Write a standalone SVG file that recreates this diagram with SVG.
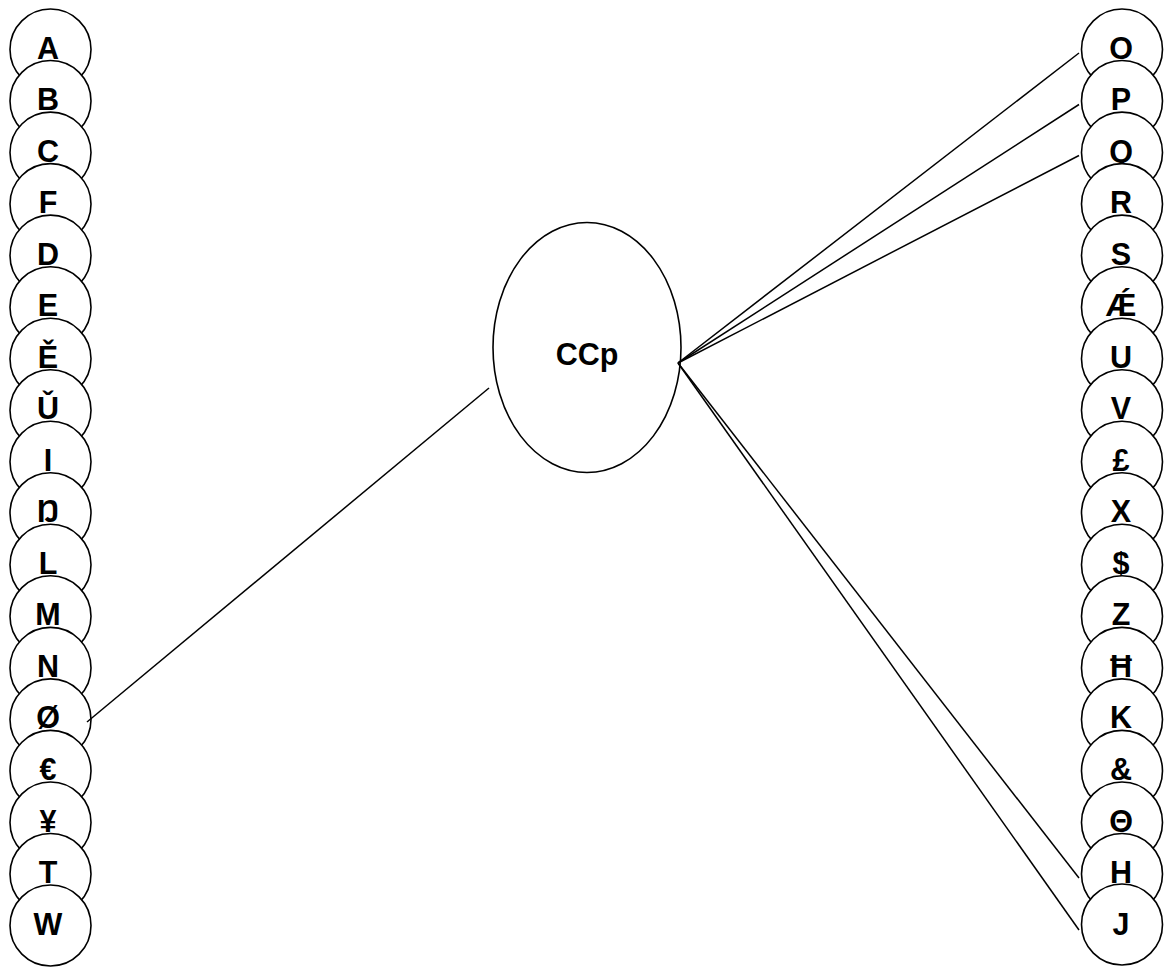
<svg xmlns="http://www.w3.org/2000/svg" width="1167" height="969" viewBox="0 0 1167 969">
<style>
.n ellipse{fill:#fff;stroke:#000;stroke-width:1.6}
.n text{font-family:"Liberation Sans",Arial,sans-serif;font-weight:bold;font-size:30.5px;text-anchor:middle;fill:#000}
.c line{stroke:#000;stroke-width:1.5}
</style>
<rect width="1167" height="969" fill="#fff"/>
<g class="n" id="nA"><ellipse cx="50.5" cy="49.5" rx="40.5" ry="40.5"/><text x="48" y="58.5">A</text></g>
<g class="n" id="nB"><ellipse cx="50.5" cy="101" rx="40.5" ry="40.5"/><text x="48" y="110">B</text></g>
<g class="n" id="nC"><ellipse cx="50.5" cy="152.6" rx="40.5" ry="40.5"/><text x="48" y="161.6">C</text></g>
<g class="n" id="nF"><ellipse cx="50.5" cy="204.1" rx="40.5" ry="40.5"/><text x="48" y="213.1">F</text></g>
<g class="n" id="nD"><ellipse cx="50.5" cy="255.6" rx="40.5" ry="40.5"/><text x="48" y="264.6">D</text></g>
<g class="n" id="nE"><ellipse cx="50.5" cy="307.2" rx="40.5" ry="40.5"/><text x="48" y="316.2">E</text></g>
<g class="n" id="nE2"><ellipse cx="50.5" cy="358.7" rx="40.5" ry="40.5"/><text x="48" y="367.7">Ě</text></g>
<g class="n" id="nU2"><ellipse cx="50.5" cy="410.2" rx="40.5" ry="40.5"/><text x="48" y="419.2">Ǔ</text></g>
<g class="n" id="nI"><ellipse cx="50.5" cy="461.7" rx="40.5" ry="40.5"/><text x="48" y="470.7">I</text></g>
<g class="n" id="nENG"><ellipse cx="50.5" cy="513.3" rx="40.5" ry="40.5"/><text x="48" y="522.3">Ŋ</text></g>
<g class="n" id="nL"><ellipse cx="50.5" cy="564.8" rx="40.5" ry="40.5"/><text x="48" y="573.8">L</text></g>
<g class="n" id="nM"><ellipse cx="50.5" cy="616.3" rx="40.5" ry="40.5"/><text x="48" y="625.3">M</text></g>
<g class="n" id="nN"><ellipse cx="50.5" cy="667.9" rx="40.5" ry="40.5"/><text x="48" y="676.9">N</text></g>
<g class="n" id="nO2"><ellipse cx="50.5" cy="719.4" rx="40.5" ry="40.5"/><text x="48" y="728.4">Ø</text></g>
<g class="n" id="nEUR"><ellipse cx="50.5" cy="770.9" rx="40.5" ry="40.5"/><text x="48" y="779.9">€</text></g>
<g class="n" id="nYEN"><ellipse cx="50.5" cy="822.5" rx="40.5" ry="40.5"/><text x="48" y="831.5">¥</text></g>
<g class="n" id="nT"><ellipse cx="50.5" cy="874" rx="40.5" ry="40.5"/><text x="48" y="883">T</text></g>
<g class="n" id="nW"><ellipse cx="50.5" cy="925.5" rx="40.5" ry="40.5"/><text x="48" y="934.5">W</text></g>

<g class="n" id="nO"><ellipse cx="1122" cy="49.5" rx="40.5" ry="40.5"/><text x="1121" y="58.5">O</text></g>
<g class="n" id="nP"><ellipse cx="1122" cy="101" rx="40.5" ry="40.5"/><text x="1121" y="110">P</text></g>
<g class="n" id="nQ"><ellipse cx="1122" cy="152.6" rx="40.5" ry="40.5"/><text x="1121" y="161.6">Q</text></g>
<g class="n" id="nR"><ellipse cx="1122" cy="204.1" rx="40.5" ry="40.5"/><text x="1121" y="213.1">R</text></g>
<g class="n" id="nS"><ellipse cx="1122" cy="255.6" rx="40.5" ry="40.5"/><text x="1121" y="264.6">S</text></g>
<g class="n" id="nAE"><ellipse cx="1122" cy="307.2" rx="40.5" ry="40.5"/><text x="1121" y="316.2">Ǽ</text></g>
<g class="n" id="nU"><ellipse cx="1122" cy="358.7" rx="40.5" ry="40.5"/><text x="1121" y="367.7">U</text></g>
<g class="n" id="nV"><ellipse cx="1122" cy="410.2" rx="40.5" ry="40.5"/><text x="1121" y="419.2">V</text></g>
<g class="n" id="nGBP"><ellipse cx="1122" cy="461.7" rx="40.5" ry="40.5"/><text x="1121" y="470.7">£</text></g>
<g class="n" id="nX"><ellipse cx="1122" cy="513.3" rx="40.5" ry="40.5"/><text x="1121" y="522.3">X</text></g>
<g class="n" id="nUSD"><ellipse cx="1122" cy="564.8" rx="40.5" ry="40.5"/><text x="1121" y="573.8">$</text></g>
<g class="n" id="nZ"><ellipse cx="1122" cy="616.3" rx="40.5" ry="40.5"/><text x="1121" y="625.3">Z</text></g>
<g class="n" id="nHBAR"><ellipse cx="1122" cy="667.9" rx="40.5" ry="40.5"/><text x="1121" y="676.9">Ħ</text></g>
<g class="n" id="nK"><ellipse cx="1122" cy="719.4" rx="40.5" ry="40.5"/><text x="1121" y="728.4">K</text></g>
<g class="n" id="nAMP"><ellipse cx="1122" cy="770.9" rx="40.5" ry="40.5"/><text x="1121" y="779.9">&amp;</text></g>
<g class="n" id="nTH"><ellipse cx="1122" cy="822.5" rx="40.5" ry="40.5"/><text x="1121" y="831.5">Θ</text></g>
<g class="n" id="nH"><ellipse cx="1122" cy="874" rx="40.5" ry="40.5"/><text x="1121" y="883">H</text></g>
<g class="n" id="nJ"><ellipse cx="1122" cy="924.5" rx="40.5" ry="40.5"/><text x="1121" y="934.5">J</text></g>

<g class="n" id="nCCp"><ellipse cx="587" cy="347.5" rx="94" ry="125"/><text x="587" y="365">CCp</text></g>

<g class="c" id="connectors">
<line x1="489" y1="388" x2="87" y2="722"/>
<line x1="678" y1="363" x2="1079" y2="53"/>
<line x1="678" y1="363" x2="1079" y2="104.5"/>
<line x1="678" y1="363" x2="1079" y2="155.5"/>
<line x1="678" y1="363" x2="1079" y2="878"/>
<line x1="678" y1="363" x2="1079" y2="930"/>
</g>
</svg>
